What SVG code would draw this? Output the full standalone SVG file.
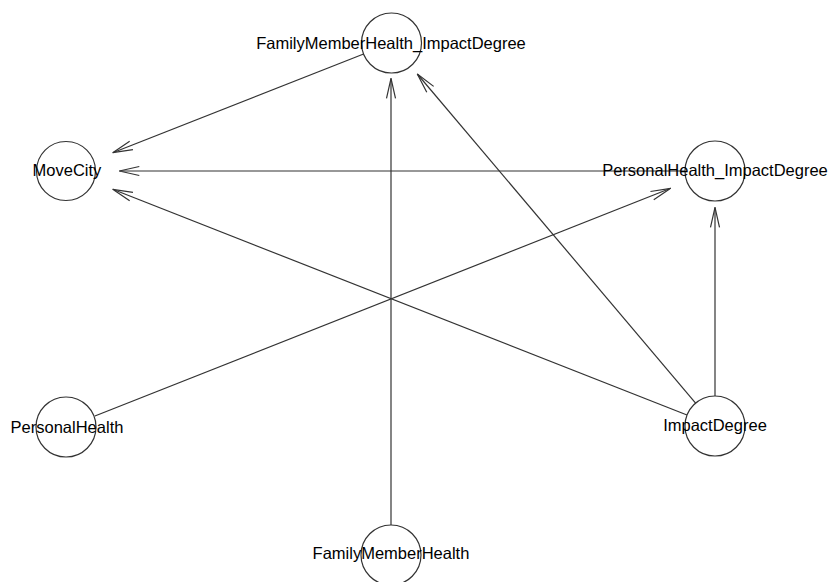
<svg xmlns="http://www.w3.org/2000/svg" width="828" height="582" viewBox="0 0 828 582">
<style>
.node circle{fill:none;stroke:#333;stroke-width:1.2}
.node text{font-family:"Liberation Sans",Arial,sans-serif;font-size:16.5px;fill:#000;text-anchor:middle}
.edges line{stroke:#333;stroke-width:1.2;marker-end:url(#arr)}
</style>
<defs>
<marker id="arr" markerUnits="userSpaceOnUse" viewBox="-22 -7 24 14" refX="0" refY="0" markerWidth="24" markerHeight="14" orient="auto" overflow="visible">
<path d="M-20,-4.5 L0,0 L-20,4.5" fill="none" stroke="#333" stroke-width="1.2"/>
</marker>
</defs>
<rect width="828" height="582" fill="#fff"/>
<g class="edges">
<line x1="363.6" y1="54" x2="112.7" y2="152.7"/>
<line x1="685" y1="171" x2="119.3" y2="171"/>
<line x1="687" y1="415" x2="112.7" y2="189.3"/>
<line x1="94.9" y1="416" x2="670.7" y2="188.3"/>
<line x1="391" y1="525" x2="391" y2="78.3"/>
<line x1="695.6" y1="403.1" x2="417.3" y2="74"/>
<line x1="715" y1="396" x2="715" y2="207.3"/>
</g>
<g id="FamilyMemberHealth_ImpactDegree" class="node"><circle cx="391.5" cy="43" r="30"/><text x="391" y="49">FamilyMemberHealth_ImpactDegree</text></g>
<g id="MoveCity" class="node"><circle cx="66" cy="171" r="29.5"/><text x="67" y="176">MoveCity</text></g>
<g id="PersonalHealth_ImpactDegree" class="node"><circle cx="715" cy="171" r="30"/><text x="715" y="176">PersonalHealth_ImpactDegree</text></g>
<g id="PersonalHealth" class="node"><circle cx="66" cy="427" r="30"/><text x="67" y="433">PersonalHealth</text></g>
<g id="ImpactDegree" class="node"><circle cx="715" cy="426" r="30"/><text x="715" y="431">ImpactDegree</text></g>
<g id="FamilyMemberHealth" class="node"><circle cx="391" cy="555" r="30"/><text x="391" y="559">FamilyMemberHealth</text></g>
</svg>
